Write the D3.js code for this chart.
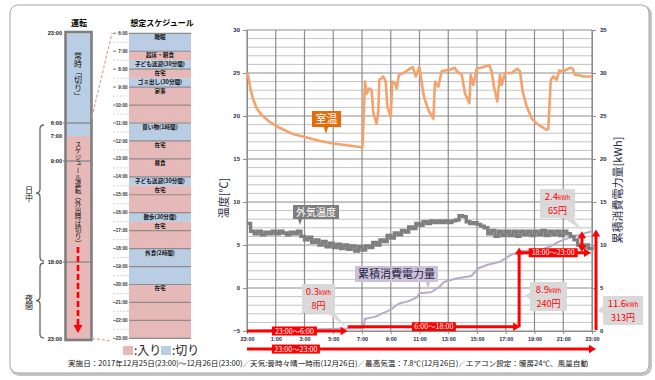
<!DOCTYPE html>
<html><head><meta charset="utf-8">
<script src="https://cdn.jsdelivr.net/npm/d3@7/dist/d3.min.js"></script>
<style>
html,body{margin:0;padding:0;background:#fff;}
svg{display:block;font-family:"Noto Sans CJK JP","Noto Sans",sans-serif;}
</style></head><body>
<svg id="chart" width="655" height="380"></svg>
<script>
// ================= DATA =================
const hourTicks = [0,2,4,6,8,10,12,14,16,18,20,22,24];
const hourLabels = ["23:00","1:00","3:00","5:00","7:00","9:00","11:00","13:00","15:00","17:00","19:00","21:00","23:00"];
const tempTicks = [-5,0,5,10,15,20,25,30];
const energyTicks = [0,5,10,15,20,25,30,35];

// room temperature (hours since 23:00)
const roomHours = [0,0.1,0.26,0.44,0.67,1.02,1.6,2.3,3.2,4.15,5.08,6.0,6.93,7.86,8.02,8.05,8.14,8.21,8.33,8.49,8.67,8.79,9.02,9.14,9.2,9.48,9.65,9.76,10.0,10.11,10.3,10.41,10.57,10.88,11.34,11.53,11.74,11.99,12.27,12.38,12.61,12.96,13.08,13.31,13.54,14.12,14.47,14.59,14.94,15.17,15.47,15.56,15.74,15.98,16.44,16.86,17.02,17.18,17.41,17.6,17.72,17.95,18.41,18.8,18.99,19.18,19.46,19.81,20.15,20.85,20.96,21.13,21.31,21.54,21.73,22.0,22.47,22.66,22.82,23.17,23.4,24.0];
const roomTemp = [25.0,24.6,23.0,21.9,20.9,20.1,19.3,18.6,17.9,17.5,17.1,16.8,16.6,16.4,16.3,17.0,21.1,24.0,22.6,23.2,23.0,20.3,19.1,20.7,24.2,24.6,24.0,21.1,19.9,24.0,23.8,23.2,24.8,25.0,25.5,25.7,24.6,25.7,22.6,21.9,20.7,19.7,24.0,23.4,25.2,25.4,25.6,25.2,24.8,22.6,21.5,24.8,23.6,25.5,25.7,25.9,25.2,23.4,21.7,24.8,23.6,25.0,25.0,25.5,25.2,22.8,21.1,19.7,19.1,18.4,18.5,24.2,24.6,24.2,25.3,25.2,25.6,25.5,24.8,24.7,24.6,24.6];

// outside temperature
const outHours = [0,0.25,0.5,0.75,1,1.25,1.5,1.75,2,2.25,2.5,2.75,3,3.25,3.5,3.75,4,4.25,4.5,4.75,5,5.25,5.5,5.75,6,6.25,6.5,6.75,7,7.25,7.5,7.75,8,8.25,8.5,8.75,9,9.25,9.5,9.75,10,10.25,10.5,10.75,11,11.25,11.5,11.75,12,12.25,12.5,12.75,13,13.25,13.5,13.75,14,14.25,14.5,14.75,15,15.25,15.5,15.75,16,16.25,16.5,16.75,17,17.25,17.5,17.75,18,18.25,18.5,18.75,19,19.25,19.5,19.75,20,20.25,20.5,20.75,21,21.25,21.5,21.75,22,22.25,22.5,22.75,23,23.25,23.5,23.75,24];
const outTemp = [7.5,6.6,6.3,6.6,6.2,6.5,6.3,6.6,6.3,6.6,6.4,6.2,6.5,6.3,6.6,6.0,5.6,5.9,5.3,5.6,5.0,5.4,4.8,5.2,4.7,5.1,4.6,5.0,4.5,4.9,4.3,4.8,4.4,4.9,4.7,5.3,5.0,5.6,5.4,6.1,5.8,6.4,6.2,6.7,6.5,7.1,6.9,7.5,7.3,7.7,7.5,7.8,7.6,7.8,7.6,7.8,7.6,7.8,7.9,8.4,8.3,7.7,7.5,7.6,7.4,7.2,7.0,6.3,6.7,6.0,6.6,6.1,6.6,6.1,6.6,6.0,6.6,6.2,6.6,6.1,6.6,6.2,6.7,6.1,6.6,6.2,6.6,6.1,6.6,6.3,6.0,5.6,5.0,4.7,5.0,4.6,4.8];

// cumulative energy (kWh)
const energyHours = [0,2,5,7,8.1,8.2,8.5,9.0,9.4,9.8,10.1,10.4,10.6,11.3,11.8,12.0,12.8,13.4,13.7,14.55,15.6,16.1,16.75,17.6,18.3,19.0,20.35,21.05,21.7,22.6,24];
const energyKwh = [0,0.1,0.2,0.3,0.35,1.4,1.5,1.7,2.05,2.3,2.6,3.0,3.2,3.5,3.9,4.4,4.5,5.15,5.7,6.1,6.4,7.3,7.7,8.05,8.8,9.3,9.4,9.8,10.4,10.95,11.6];

// period annotations
const periodNames = ["23:00～6:00","6:00～18:00","18:00～23:00","23:00～23:00"];
const periodStart = [0,7,19,0];
const periodEnd = [7,19,24,24];
const periodKwh = ["0.3","8.9","2.4","11.6"];
const periodYen = ["8円","240円","65円","313円"];

// schedule (left panel)
const schedStart = [6,7,7.5,8,8.5,9,11,12,13,14,14.5,16,16.5,18,20];
const schedEnd   = [7,7.5,8,8.5,9,11,12,13,14,14.5,16,16.5,18,20,23];
const schedLabel = ["睡眠","起床・朝食","子ども送迎(30分間)","在宅","ゴミ出し(30分間)","家事","買い物(1時間)","在宅","昼食","子ども送迎(30分間)","在宅","散歩(30分間)","在宅","外食(2時間)","在宅"];
const schedOn    = [0,1,0,1,0,1,0,1,1,0,1,0,1,0,1];
const schedHours = [6,7,8,9,10,11,12,13,14,15,16,17,18,19,20,21,22,23];

const opHours  = [-1,6,7,9,18,23];
const opLabels = ["23:00","6:00","7:00","9:00","18:00","23:00"];
const opStart = [-1,7];
const opEnd   = [7,23];
const opOn    = [0,1];

const footer = "実施日：2017年12月25日(23:00)～12月26日(23:00)／天気:曇時々晴一時雨(12月26日)／最高気温：7.8℃(12月26日)／エアコン設定：暖房24℃、風量自動";

// ================= COLORS =================
const PINK = "#E6B9B8", BLUE = "#B9CDE5", RED = "#FF0000";

const svg = d3.select("#chart");

// frame
svg.append("rect").attr("x",11.5).attr("y",6.5).attr("width",639).attr("height",368).attr("rx",8)
  .attr("fill","none").attr("stroke","#C4C4C4").attr("stroke-width",3);
svg.append("rect").attr("x",10).attr("y",5).attr("width",639).attr("height",368).attr("rx",8)
  .attr("fill","#fff").attr("stroke","#A6A6A6").attr("stroke-width",1);

// ================= MAIN CHART =================
const x  = d3.scaleLinear().domain([0,24]).range([247,592]);
const yL = d3.scaleLinear().domain([-5,30]).range([331,30]);
const yR = d3.scaleLinear().domain([0,35]).range([331,30]);

const grid = svg.append("g");
grid.selectAll(".minor").data(d3.range(-5,31).filter(v=>v%5!==0)).join("line")
  .attr("x1",x(0)).attr("x2",x(24)).attr("y1",d=>yL(d)).attr("y2",d=>yL(d))
  .attr("stroke","#C3C3C3").attr("stroke-width",1);
grid.selectAll(".major").data(tempTicks).join("line")
  .attr("x1",x(0)).attr("x2",x(24)).attr("y1",d=>yL(d)).attr("y2",d=>yL(d))
  .attr("stroke","#8C8C8C").attr("stroke-width",1.2);
grid.selectAll(".vert").data(hourTicks).join("line")
  .attr("x1",d=>x(d)).attr("x2",d=>x(d)).attr("y1",yL(30)).attr("y2",yL(-5))
  .attr("stroke","#8C8C8C").attr("stroke-width",1.2);

function styleAxis(g, fs){
  g.select(".domain").attr("stroke","#8C8C8C");
  g.selectAll(".tick line").attr("stroke","#8C8C8C");
  g.selectAll("text").attr("font-size",fs).attr("font-weight","bold").attr("fill","#1F2A4A")
    .attr("font-family","'Liberation Sans',Arial,sans-serif");
}
styleAxis(svg.append("g").attr("transform",`translate(${x(0)},0)`)
  .call(d3.axisLeft(yL).tickValues(tempTicks).tickSize(4).tickPadding(3)), 6);
styleAxis(svg.append("g").attr("transform",`translate(${x(24)},0)`)
  .call(d3.axisRight(yR).tickValues(energyTicks).tickSize(4).tickPadding(4)), 6);
styleAxis(svg.append("g").attr("transform",`translate(0,${yL(-5)})`)
  .call(d3.axisBottom(x).tickValues(hourTicks).tickFormat((d,i)=>hourLabels[i]).tickSize(3).tickPadding(3)), 5.5);

// axis titles
svg.append("text").attr("transform","translate(228,198) rotate(-90)").attr("text-anchor","middle")
  .attr("font-size",11).attr("fill","#1F2A4A").text("温度[℃]");
svg.append("text").attr("transform","translate(622,190) rotate(-90)").attr("text-anchor","middle")
  .attr("font-size",11).attr("fill","#1F2A4A").text("累積消費電力量[kWh]");

// series
const lineE = d3.line().x((d,i)=>x(energyHours[i])).y(d=>yR(d));
svg.append("path").datum(energyKwh).attr("d",lineE).attr("fill","none")
  .attr("stroke","#B7ABCB").attr("stroke-width",2);
const lineO = d3.line().x((d,i)=>x(outHours[i])).y(d=>yL(d)).curve(d3.curveStepAfter);
svg.append("path").datum(outTemp).attr("d",lineO).attr("fill","none")
  .attr("stroke","#7F7F7F").attr("stroke-width",3.4).attr("stroke-linejoin","miter");
const lineR = d3.line().x((d,i)=>x(roomHours[i])).y(d=>yL(d));
svg.append("path").datum(roomTemp).attr("d",lineR).attr("fill","none")
  .attr("stroke","#F6A26C").attr("stroke-width",2.6).attr("stroke-linejoin","round");

// ================= ANNOTATIONS =================
const ann = svg.append("g");
function arrow(x1,y1,x2,y2,hs,he,color,w){
  const dx=x2-x1, dy=y2-y1, L=Math.hypot(dx,dy), ux=dx/L, uy=dy/L;
  const hl=7, hw=4.2;
  let sx=x1, sy=y1, ex=x2, ey=y2;
  if(hs){sx+=ux*(hl-1); sy+=uy*(hl-1);}
  if(he){ex-=ux*(hl-1); ey-=uy*(hl-1);}
  ann.append("line").attr("x1",sx).attr("y1",sy).attr("x2",ex).attr("y2",ey)
    .attr("stroke",color).attr("stroke-width",w);
  const head=(tx,ty,vx,vy)=>{
    const bx=tx-vx*hl, by=ty-vy*hl;
    ann.append("polygon").attr("points",[[tx,ty],[bx-vy*hw,by+vx*hw],[bx+vy*hw,by-vx*hw]].map(p=>p.join(",")).join(" "))
      .attr("fill",color);
  };
  if(he) head(x2,y2,ux,uy);
  if(hs) head(x1,y1,-ux,-uy);
}
function redLabel(cx,cy,w,txt){
  ann.append("rect").attr("x",cx-w/2).attr("y",cy-4.5).attr("width",w).attr("height",9).attr("fill",RED);
  ann.append("text").attr("x",cx).attr("y",cy+2.6).attr("text-anchor","middle").attr("font-size",7.2)
    .attr("fill","#fff").text(txt);
}

// horizontal period arrows
arrow(x(periodStart[0]),yL(-5),x(periodEnd[0]),yL(-5),false,true,RED,3);
arrow(x(periodStart[1]),yL(-4.5),x(periodEnd[1]),yL(-4.5),false,true,RED,3);
arrow(x(periodStart[2]),yR(9.1),x(periodEnd[2])-1,yR(9.1),false,true,RED,3);
arrow(x(periodStart[3]),yL(-7.1),x(periodEnd[3])+4,yL(-7.1),false,true,RED,3);
// vertical arrows
arrow(x(periodEnd[1])-1,yR(0.45),x(periodEnd[1])-1,yR(9.7),false,true,RED,3);
arrow(x(23.3),yR(11.6),x(23.3),yR(9.2),true,true,RED,3);
arrow(x(24)+4,yR(0.1),x(24)+4,yR(11.8),false,true,RED,3);

redLabel(x(3.3),yL(-5),45,periodNames[0]);
redLabel(x(13),yL(-4.5),44,periodNames[1]);
redLabel(x(21.3),yR(9.1),49,periodNames[2]);
redLabel(x(3.4),yL(-7.1),48,periodNames[3]);

// callouts
function callout(bx,by,bw,bh,ptr,kwh,yen){
  ann.append("polygon").attr("points",ptr.map(p=>p.join(",")).join(" ")).attr("fill","#D9D9D9");
  ann.append("rect").attr("x",bx).attr("y",by).attr("width",bw).attr("height",bh).attr("fill","#D9D9D9");
  const t1 = ann.append("text").attr("x",bx+bw/2).attr("y",by+11).attr("text-anchor","middle").attr("fill",RED);
  t1.append("tspan").attr("font-size",9.5).text(kwh);
  t1.append("tspan").attr("font-size",6).text("kWh");
  ann.append("text").attr("x",bx+bw/2).attr("y",by+24.5).attr("text-anchor","middle")
    .attr("fill",RED).attr("font-size",9).text(yen);
}
callout(302,284,33,29,[[326,312],[334,312],[x(7)-1,yL(-4.6)]],periodKwh[0],periodYen[0]);
callout(530,282,37,29,[[531,292],[531,300],[524,296]],periodKwh[1],periodYen[1]);
callout(540,189,35,29,[[562,217],[572,217],[583,231]],periodKwh[2],periodYen[2]);
callout(603,296,40,29,[[604,304],[604,314],[598,311]],periodKwh[3],periodYen[3]);

// series labels
function seriesLabel(bx,by,bw,bh,tip,fill,col,fs,txt){
  const cx=bx+bw/2;
  ann.append("polygon").attr("points",[[tip[0]-2.5,by+bh-1],[tip[0]+2.5,by+bh-1],tip].map(p=>p.join(",")).join(" ")).attr("fill",fill);
  ann.append("rect").attr("x",bx).attr("y",by).attr("width",bw).attr("height",bh).attr("fill",fill);
  ann.append("text").attr("x",cx).attr("y",by+bh/2+fs*0.38).attr("text-anchor","middle")
    .attr("font-size",fs).attr("fill",col).text(txt);
}
seriesLabel(312,111,29,16,[326,134],"#E46C0A","#fff",11,"室温");
seriesLabel(293,205,46,14,[300,225],"#7F7F7F","#fff",10,"外気温度");
seriesLabel(355,266,83,16,[428,289],"#CCC1DA","#1F1F3F",11,"累積消費電力量");

// ================= LEFT PANEL =================
const lp = svg.append("g");
const sY = d3.scaleLinear().domain([6,23]).range([33.3,338.3]);
const oY = d3.scaleLinear().domain(opHours).range([33.3,123,136,161,262,339]);

lp.append("text").attr("x",79).attr("y",26).attr("text-anchor","middle").attr("font-size",8)
  .attr("font-weight","bold").text("運転");
lp.append("text").attr("x",162).attr("y",26).attr("text-anchor","middle").attr("font-size",8)
  .attr("font-weight","bold").text("想定スケジュール");

// schedule blocks
lp.selectAll(".blk").data(schedStart).join("rect")
  .attr("x",129).attr("width",62).attr("y",d=>sY(d)).attr("height",(d,i)=>sY(schedEnd[i])-sY(d))
  .attr("fill",(d,i)=>schedOn[i]?PINK:BLUE);
// half-hour dashed lines
lp.selectAll(".half").data(schedHours.slice(0,-1)).join("line")
  .attr("x1",113).attr("x2",191).attr("y1",d=>sY(d+0.5)).attr("y2",d=>sY(d+0.5))
  .attr("stroke","#C8C8C8").attr("stroke-width",0.8).attr("stroke-dasharray","2,1.5");
// hour lines
lp.selectAll(".hr").data(schedHours).join("line")
  .attr("x1",129).attr("x2",191).attr("y1",d=>sY(d)).attr("y2",d=>sY(d))
  .attr("stroke","#8C8C8C").attr("stroke-width",1.2);
lp.selectAll(".hrt").data(schedHours).join("line")
  .attr("x1",113).attr("x2",116).attr("y1",d=>sY(d)).attr("y2",d=>sY(d))
  .attr("stroke","#555").attr("stroke-width",0.8);
lp.selectAll(".hrl").data(schedHours).join("text")
  .attr("x",127.5).attr("y",d=>sY(d)+1.6).attr("text-anchor","end").attr("font-size",4.6)
  .attr("font-family","'Liberation Sans',Arial,sans-serif").attr("font-weight","bold").attr("fill","#333")
  .text(d=>d+":00");
lp.selectAll(".sl").data(schedLabel).join("text")
  .attr("x",160).attr("y",(d,i)=>sY(schedStart[i])+6).attr("text-anchor","middle")
  .attr("font-size",5.6).attr("font-weight","bold").attr("fill","#111").text(d=>d);

// operation column
lp.selectAll(".op").data(opStart).join("rect")
  .attr("x",66).attr("width",25).attr("y",d=>oY(d)).attr("height",(d,i)=>oY(opEnd[i])-oY(d))
  .attr("fill",(d,i)=>opOn[i]?PINK:BLUE);
lp.selectAll(".opl").data([6,9,18]).join("line")
  .attr("x1",63).attr("x2",91).attr("y1",d=>oY(d)).attr("y2",d=>oY(d))
  .attr("stroke","#8C8C8C").attr("stroke-width",1.4);
lp.append("rect").attr("x",65.5).attr("y",32).attr("width",26).attr("height",308)
  .attr("fill","none").attr("stroke","#7F7F7F").attr("stroke-width",2.6);
lp.selectAll(".opt").data(opHours).join("text")
  .attr("x",62).attr("y",(d)=>oY(d)+1.8).attr("text-anchor","end").attr("font-size",5.6)
  .attr("font-family","'Liberation Sans',Arial,sans-serif").attr("font-weight","bold").attr("fill","#222")
  .text((d,i)=>opLabels[i]);
lp.append("text").attr("x",78).attr("y",oY(2.3)).attr("text-anchor","middle").attr("font-size",8)
  .style("writing-mode","vertical-rl").attr("fill","#111").text("常時「切り」");
lp.append("text").attr("x",78).attr("y",oY(11.9)).attr("text-anchor","middle").attr("font-size",6.6)
  .style("writing-mode","vertical-rl").attr("fill","#111").text("スケジュール運転（外出時は切り）");
// red dashed arrow
lp.append("line").attr("x1",78).attr("x2",78).attr("y1",247).attr("y2",326)
  .attr("stroke",RED).attr("stroke-width",2.6).attr("stroke-dasharray","6,3");
lp.append("polygon").attr("points","73.5,325 82.5,325 78,333").attr("fill",RED);

// connector dashed lines
lp.append("line").attr("x1",92).attr("y1",117).attr("x2",112).attr("y2",33)
  .attr("stroke","#E39C9C").attr("stroke-width",1.2).attr("stroke-dasharray","3,2");
lp.append("line").attr("x1",92).attr("y1",338.5).attr("x2",112).attr("y2",341)
  .attr("stroke","#E39C9C").attr("stroke-width",1.2).attr("stroke-dasharray","3,2");

// braces
function brace(y1,y2){
  const ym=(y1+y2)/2;
  const p = `M44,${y1} Q40,${y1} 40,${y1+4} L40,${ym-4} Q40,${ym} 36,${ym} Q40,${ym} 40,${ym+4} L40,${y2-4} Q40,${y2} 44,${y2}`;
  lp.append("path").attr("d",p).attr("fill","none").attr("stroke","#666").attr("stroke-width",1.3);
}
brace(oY(6)+2,oY(18)-1);
brace(oY(18)+1,oY(23)-1);
lp.append("text").attr("x",29).attr("y",(oY(6)+oY(18))/2+1).attr("text-anchor","middle").attr("font-size",8)
  .style("writing-mode","vertical-rl").attr("fill","#111").text("日中");
lp.append("text").attr("x",29).attr("y",(oY(18)+oY(23))/2+1).attr("text-anchor","middle").attr("font-size",8)
  .style("writing-mode","vertical-rl").attr("fill","#111").text("夜間");

// legend
lp.append("rect").attr("x",123).attr("y",346).attr("width",10).attr("height",9).attr("fill",PINK);
lp.append("text").attr("x",134).attr("y",355).attr("font-size",12).attr("fill","#222").text(":入り");
lp.append("rect").attr("x",161).attr("y",346).attr("width",10).attr("height",9).attr("fill",BLUE);
lp.append("text").attr("x",172).attr("y",355).attr("font-size",12).attr("fill","#222").text(":切り");

// footer
svg.append("text").attr("x",68).attr("y",366).attr("font-size",7.4).attr("fill","#111")
  .attr("textLength",520).attr("lengthAdjust","spacingAndGlyphs").text(footer);
</script>
</body></html>
